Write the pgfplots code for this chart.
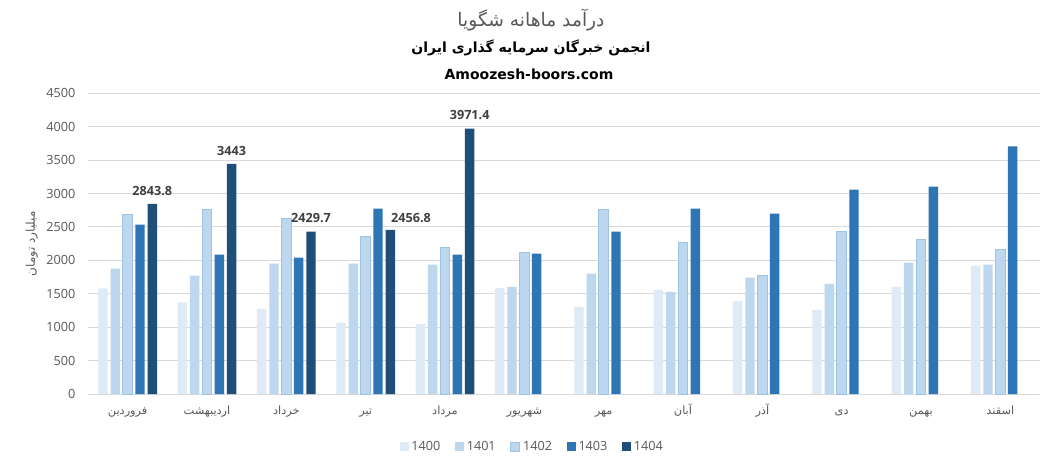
\documentclass[border=0pt]{standalone}
\usepackage{fontspec}
\usepackage{pgfplots}
\usepackage{pgfplotstable}
\pgfplotsset{compat=1.18}
\setmainfont{Open Sans}
\newfontfamily\arabicfont[Script=Arabic]{DejaVu Sans}
\TeXXeTstate=1
\newcommand\fa[1]{{\arabicfont\beginR #1\endR}}
\definecolor{cA}{HTML}{DEEBF7}
\definecolor{cB}{HTML}{BDD7EE}
\definecolor{cC}{HTML}{BDD7EE}
\definecolor{cCb}{HTML}{9DC3E6}
\definecolor{cD}{HTML}{2E75B6}
\definecolor{cE}{HTML}{1F4E79}
\definecolor{gridc}{HTML}{D9D9D9}
\definecolor{txt}{HTML}{595959}
\definecolor{lab}{HTML}{404040}
\pgfplotsset{sqleg/.style={legend image code/.code={\path[##1] (0pt,-3.4pt) rectangle (6.8pt,3.4pt);}}}

\pgfplotstableread{
x y
0 1580
1 1370
2 1275
3 1065
4 1050
5 1590
6 1305
7 1560
8 1395
9 1260
10 1605
11 1920
}\tA
\pgfplotstableread{
x y
0 1875
1 1770
2 1950
3 1950
4 1935
5 1605
6 1800
7 1530
8 1740
9 1650
10 1965
11 1935
}\tB
\pgfplotstableread{
x y
0 2685
1 2760
2 2625
3 2355
4 2190
5 2115
6 2760
7 2265
8 1770
9 2430
10 2310
11 2160
}\tC
\pgfplotstableread{
x y
0 2535
1 2085
2 2040
3 2775
4 2085
5 2100
6 2430
7 2775
8 2700
9 3060
10 3105
11 3705
}\tD
\pgfplotstableread{
x y lab dx dy
0 2843.8 2843.8 0 0
1 3443 3443 0 0
2 2429.7 2429.7 0 0
3 2456.8 2456.8 15.5 -1.5
4 3971.4 3971.4 0 0
}\tE

\begin{document}
\begin{tikzpicture}
\useasboundingbox[fill=white] (0,0) rectangle (792.75pt,342.75pt);
\node[text=txt,font=\arabicfont\fontsize{14}{16}\selectfont] at (398.25pt,327.75pt) {\beginR درآمد ماهانه شگویا\endR};
\node[text=black,font=\arabicfont\bfseries\fontsize{10.5}{13}\selectfont] at (398.25pt,306.5pt) {\beginR انجمن خبرگان سرمایه گذاری ایران\endR};
\node[text=black,font=\arabicfont\bfseries\fontsize{10.5}{13}\selectfont] at (396.75pt,287.25pt) {Amoozesh-boors.com};
\begin{axis}[
  at={(66pt,47.25pt)}, anchor=south west,
  scale only axis, width=714pt, height=225.5pt,
  ybar=2.15pt, bar width=7.1pt,
  xmin=-0.5, xmax=11.5, ymin=0, ymax=4500,
  xtick={0,...,11},
  xticklabels={\fa{فروردین},\fa{اردیبهشت},\fa{خرداد},\fa{تیر},\fa{مرداد},\fa{شهریور},\fa{مهر},\fa{آبان},\fa{آذر},\fa{دی},\fa{بهمن},\fa{اسقند}},
  ytick={0,500,...,4500},
  major tick length=0pt,
  axis line style={draw=none},
  ymajorgrids, grid style={gridc, line width=0.75pt},
  tick label style={text=txt},
  xticklabel style={font=\fontsize{8.5}{10}\selectfont, anchor=base, yshift=-15.5pt},
  yticklabel style={font=\fontsize{9.5}{11}\selectfont, xshift=-6pt},
  /pgf/number format/assume math mode=true,
  /pgf/number format/1000 sep={},
  ylabel={\arabicfont\beginR میلیارد تومان\endR},
  ylabel style={text=txt, font=\fontsize{9}{11}\selectfont, at={(axis description cs:-0.059,0.5)}, anchor=center},
  legend columns=5,
  legend style={draw=none, fill=none, at={(0.467,-0.176)}, anchor=center, font=\fontsize{9.5}{11}\selectfont, text=txt,
    /tikz/every even column/.append style={column sep=9pt}},
]
\addplot[fill=cA, draw=none, sqleg] table[x=x,y=y]{\tA};
\addplot[fill=cB, draw=none, sqleg] table[x=x,y=y]{\tB};
\addplot[fill=cC, draw=cCb, line width=0.75pt, sqleg] table[x=x,y=y]{\tC};
\addplot[fill=cD, draw=none, sqleg] table[x=x,y=y]{\tD};
\addplot[fill=cE, draw=none, sqleg,
  nodes near coords, point meta=explicit symbolic,
  visualization depends on={\thisrow{dx} \as \dx},
  visualization depends on={\thisrow{dy} \as \dy},
  every node near coord/.append style={font=\bfseries\fontsize{9.5}{11}\selectfont, text=lab, anchor=south, xshift=\dx pt, yshift=3pt+\dy pt}
] table[x=x,y=y,meta=lab]{\tE};
\legend{1400,1401,1402,1403,1404}
\end{axis}
\end{tikzpicture}
\end{document}
